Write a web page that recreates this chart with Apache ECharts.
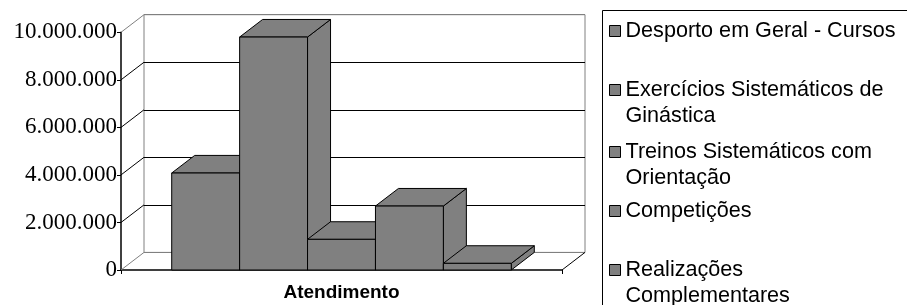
<!DOCTYPE html>
<html>
<head>
<meta charset="utf-8">
<style>
  html, body { margin: 0; padding: 0; background: #fff; }
  #chart { width: 907px; height: 305px; }
</style>
<script src="https://cdn.jsdelivr.net/npm/echarts@6/dist/echarts.min.js"></script>
</head>
<body>
<div id="chart"></div>
<script>
  // data
  var categories = ['Atendimento']
  var seriesNames = [
    'Desporto em Geral - Cursos',
    'Exercícios Sistemáticos de Ginástica',
    'Treinos Sistemáticos com Orientação',
    'Competições',
    'Realizações Complementares'
  ]
  var legendLabels = [
    'Desporto em Geral - Cursos',
    'Exercícios Sistemáticos de\nGinástica',
    'Treinos Sistemáticos com\nOrientação',
    'Competições',
    'Realizações\nComplementares'
  ]
  var seriesValues = [4080000, 9800000, 1290000, 2690000, 280000]
  var yTicks = [0, 2000000, 4000000, 6000000, 8000000, 10000000]

  // fake 3d look
  var DX = 23
  var DY = -17.6
  var GROUP = 0.77
  var GRAY = '#808080'
  var LH = 26

  function fmt (v) {
    return String(v).replace(/\B(?=(\d{3})+(?!\d))/g, '.')
  }

  function barRenderer (idx) {
    return function (params, api) {
      var band = api.size([1, 0])[0]
      var c = api.coord([api.value(0), api.value(1)])
      var b = api.coord([api.value(0), 0])
      var groupW = band * GROUP
      var w = groupW / seriesNames.length
      var x0 = c[0] - groupW / 2 + idx * w
      var x1 = x0 + w
      var top = c[1]
      var base = b[1]
      var st = { fill: GRAY, stroke: '#000', lineWidth: 1 }
      return {
        type: 'group',
        children: [
          { type: 'polygon', shape: { points: [[x1, top], [x1 + DX, top + DY], [x1 + DX, base + DY], [x1, base]] }, style: st },
          { type: 'polygon', shape: { points: [[x0, top], [x1, top], [x1 + DX, top + DY], [x0 + DX, top + DY]] }, style: st },
          { type: 'rect', shape: { x: x0, y: top, width: w, height: base - top }, style: st }
        ]
      }
    }
  }

  // diagonal lines on the left wall, one per tick
  function wallRenderer (params, api) {
    var band = api.size([1, 0])[0]
    var c = api.coord([0, api.value(1)])
    var left = c[0] - band / 2
    var last = params.dataIndex === 0 || params.dataIndex === yTicks.length - 1
    var children = [{
      type: 'line',
      shape: { x1: left, y1: c[1], x2: left + DX, y2: c[1] + DY },
      style: { stroke: last ? GRAY : '#000', lineWidth: 1 }
    }]
    if (params.dataIndex === 0) {
      children.push({
        type: 'line',
        shape: { x1: left + band, y1: c[1], x2: left + band + DX, y2: c[1] + DY },
        style: { stroke: '#000', lineWidth: 1 }
      })
    }
    return { type: 'group', children: children }
  }

  var series = [{
    type: 'custom',
    name: 'wall',
    silent: true,
    z: 1,
    xAxisIndex: 0,
    yAxisIndex: 0,
    renderItem: wallRenderer,
    data: yTicks.map(function (v) { return [0, v] })
  }]
  seriesNames.forEach(function (name, i) {
    series.push({
      type: 'custom',
      name: name,
      z: 3 + i,
      xAxisIndex: 0,
      yAxisIndex: 0,
      color: GRAY,
      renderItem: barRenderer(i),
      data: [[0, seriesValues[i]]]
    })
  })

  // two-line entries get an empty first line so the box sits next to line one
  var legendCenters = [31, 90, 152, 211, 270]
  var legends = seriesNames.map(function (name, i) {
    var two = legendLabels[i].indexOf('\n') >= 0
    return {
      orient: 'vertical',
      left: 609,
      top: legendCenters[i] - (two ? 1.5 * LH : LH / 2),
      padding: 0,
      itemWidth: 11,
      itemHeight: 11,
      icon: 'rect',
      selectedMode: false,
      itemStyle: { color: GRAY, borderColor: '#000', borderWidth: 1 },
      formatter: function () { return two ? ' \n' + legendLabels[i] : legendLabels[i] },
      textStyle: {
        fontFamily: 'Arial, "Liberation Sans", sans-serif',
        fontSize: 21.6,
        lineHeight: LH,
        color: '#000'
      },
      data: [name]
    }
  })

  var chart = echarts.init(document.getElementById('chart'))
  chart.setOption({
    backgroundColor: '#fff',
    animation: false,
    legend: legends,
    graphic: [{
      type: 'rect',
      shape: { x: 602.5, y: 10.5, width: 320, height: 310 },
      style: { fill: 'none', stroke: '#000', lineWidth: 1 }
    }],
    grid: [
      { left: 121, top: 32.3, width: 441, height: 237.7 },
      { left: 144, top: 14.7, width: 441, height: 237.7, show: true, borderColor: GRAY, borderWidth: 1, backgroundColor: 'transparent' }
    ],
    xAxis: [{
      type: 'category',
      gridIndex: 0,
      data: categories,
      axisLine: { lineStyle: { color: '#000', width: 1.5 } },
      axisTick: { show: true, length: 4, lineStyle: { color: '#000' } },
      axisLabel: {
        margin: 13,
        color: '#000',
        fontFamily: 'Arial, "Liberation Sans", sans-serif',
        fontWeight: 'bold',
        fontSize: 19
      }
    }, {
      type: 'category',
      gridIndex: 1,
      data: categories,
      show: false
    }],
    yAxis: [{
      type: 'value',
      gridIndex: 0,
      min: 0,
      max: 10000000,
      interval: 2000000,
      axisLine: { show: true, lineStyle: { color: '#000', width: 1.5 } },
      axisTick: { show: true, length: 4, lineStyle: { color: '#000' } },
      splitLine: { show: false },
      axisLabel: {
        margin: 4,
        color: '#000',
        fontFamily: '"Times New Roman", "Liberation Serif", serif',
        fontSize: 23,
        formatter: fmt
      }
    }, {
      type: 'value',
      gridIndex: 1,
      min: 0,
      max: 10000000,
      interval: 2000000,
      axisLine: { show: false },
      axisTick: { show: false },
      axisLabel: { show: false },
      splitLine: { show: true, lineStyle: { color: [GRAY, '#000', '#000', '#000', '#000', GRAY], width: 1 } }
    }],
    series: series
  })
  window.onresize = function () {
    chart.resize()
  }
</script>
</body>
</html>
